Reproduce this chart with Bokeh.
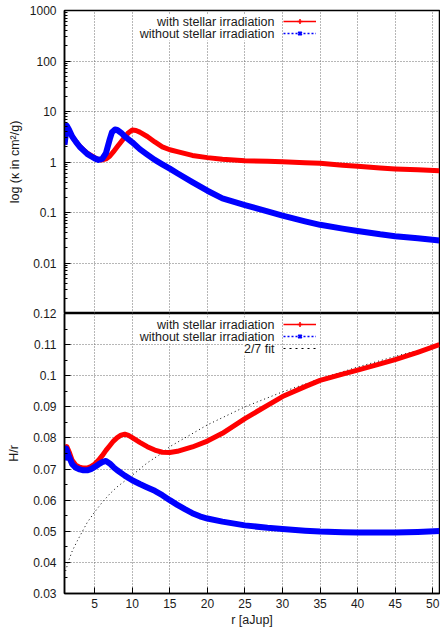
from bokeh.plotting import figure
from bokeh.layouts import column
from bokeh.models import (Range1d, FixedTicker, Label, Legend, LegendItem)
from bokeh.embed import file_html
from bokeh.resources import INLINE

FONT = "Liberation Sans"

# ---------------- data ----------------
r_kappa_irr = [0.98, 1.3, 1.6, 2.0, 2.5, 3.0, 3.5, 4.0, 4.5, 5.0, 5.5, 6.0, 6.5, 7.0,
               7.5, 8.0, 8.5, 9.0, 9.5, 10.0, 10.5, 11.0, 12.0, 13.0, 14.0, 15.0,
               16.0, 18.0, 20.0, 22.0, 25.0, 28.0, 30.0, 33.0, 35.0, 38.0, 40.0,
               43.0, 45.0, 48.0, 50.9]
kappa_irr = [2.2, 5.0, 4.2, 3.2, 2.5, 2.05, 1.75, 1.5, 1.35, 1.22, 1.12, 1.1, 1.15, 1.3,
             1.6, 2.0, 2.5, 3.1, 3.8, 4.3, 4.2, 3.9, 3.2, 2.5, 2.0, 1.75,
             1.6, 1.35, 1.22, 1.13, 1.06, 1.03, 1.01, 0.97, 0.94, 0.86, 0.82,
             0.76, 0.73, 0.70, 0.67]

r_kappa_noirr = [0.98, 1.3, 1.6, 2.0, 2.5, 3.0, 3.5, 4.0, 4.5, 5.0, 5.5, 6.0, 6.5, 7.0,
                 7.3, 7.7, 8.0, 8.5, 9.0, 9.5, 10.0, 11.0, 12.0, 13.0, 14.0, 15.0,
                 16.0, 18.0, 20.0, 22.0, 25.0, 28.0, 30.0, 33.0, 35.0, 38.0, 40.0,
                 43.0, 45.0, 48.0, 50.9]
kappa_noirr = [2.2, 5.2, 4.3, 3.2, 2.5, 2.0, 1.7, 1.45, 1.3, 1.18, 1.1, 1.15, 1.5, 2.8,
               3.9, 4.4, 4.3, 3.8, 3.2, 2.8, 2.45, 1.8, 1.4, 1.1, 0.9, 0.74,
               0.6, 0.4, 0.27, 0.19, 0.14, 0.105, 0.087, 0.067, 0.057, 0.048, 0.043,
               0.037, 0.034, 0.031, 0.028]

r_h_irr = [0.98, 1.3, 1.6, 2.0, 2.5, 3.0, 3.5, 4.0, 4.5, 5.0, 5.5, 6.0, 6.5, 7.0, 7.5,
           8.0, 8.5, 9.0, 9.5, 10.0, 11.0, 12.0, 13.0, 14.0, 15.0, 16.0, 18.0, 20.0,
           22.0, 25.0, 28.0, 30.0, 33.0, 35.0, 38.0, 40.0, 43.0, 45.0, 48.0, 50.9]
h_irr = [0.0735, 0.0772, 0.0755, 0.0728, 0.0712, 0.0706, 0.0703, 0.0703, 0.0708, 0.0716,
         0.0728, 0.0743, 0.0760, 0.0775, 0.0790, 0.0801, 0.0809, 0.0812, 0.0808, 0.0801,
         0.0786, 0.0772, 0.0761, 0.0754, 0.0753, 0.0757, 0.0771, 0.0790, 0.0815, 0.0862,
         0.0905, 0.0933, 0.0965, 0.0985, 0.1005, 0.1018, 0.1038, 0.1052, 0.1075, 0.1100]

r_h_noirr = [0.98, 1.2, 1.5, 2.0, 2.5, 3.0, 3.5, 4.0, 4.5, 5.0, 5.5, 6.0, 6.5, 7.0, 7.5,
             8.0, 9.0, 10.0, 11.0, 12.0, 13.0, 14.0, 15.0, 16.0, 17.0, 18.0, 19.0, 20.0,
             22.0, 25.0, 28.0, 30.0, 33.0, 35.0, 38.0, 40.0, 43.0, 45.0, 48.0, 50.9]
h_noirr = [0.0728, 0.0766, 0.0745, 0.0716, 0.0704, 0.0699, 0.0696, 0.0696, 0.0700, 0.0707,
           0.0715, 0.0722, 0.0726, 0.0718, 0.0706, 0.0696, 0.0679, 0.0664, 0.0652, 0.0641,
           0.0630, 0.0616, 0.0600, 0.0585, 0.0571, 0.0558, 0.0548, 0.0541, 0.0531, 0.0519,
           0.0511, 0.0507, 0.0502, 0.0499, 0.0497, 0.0496, 0.0496, 0.0496, 0.0498, 0.0501]

r_fit = [0.98, 1.5, 2.0, 2.7, 4.0, 5.0, 6.0, 7.0, 8.0, 10.0, 12.0, 14.0, 15.0, 20.0, 25.0,
         30.0, 35.0, 40.0, 45.0, 50.9]
h_fit = [0.0360, 0.0403, 0.0436, 0.0470, 0.0528, 0.0562, 0.0593, 0.0620, 0.0643, 0.0680,
         0.0720, 0.0752, 0.0772, 0.0842, 0.0900, 0.0948, 0.0990, 0.1028, 0.1062, 0.1100]

x_ticks = [5, 10, 15, 20, 25, 30, 35, 40, 45, 50]
kappa_ticks = [0.01, 0.1, 1, 10, 100, 1000]
kappa_tick_labels = ["0.01", "0.1", "1", "10", "100", "1000"]
kappa_minor = [m * d for d in [0.001, 0.01, 0.1, 1, 10, 100] for m in range(2, 10)]
h_ticks = [0.03, 0.04, 0.05, 0.06, 0.07, 0.08, 0.09, 0.1, 0.11, 0.12]
h_tick_labels = ["0.03", "0.04", "0.05", "0.06", "0.07", "0.08", "0.09", "0.1", "0.11", "0.12"]
h_minor = [0.035, 0.045, 0.055, 0.065, 0.075, 0.085, 0.095, 0.105, 0.115]

legend_top = ["with stellar irradiation", "without stellar irradiation"]
legend_bot = ["with stellar irradiation", "without stellar irradiation", "2/7 fit"]

RED = "#ff0000"
BLUE = "#0000ff"
GRID = "#6e6e6e"
TXT = "#1a1a1a"


def style_axis(ax):
    ax.axis_line_color = "black"
    ax.axis_line_width = 1.5
    ax.major_tick_line_color = "black"
    ax.minor_tick_line_color = "black"
    ax.major_tick_in = 6
    ax.major_tick_out = 0
    ax.minor_tick_in = 3
    ax.minor_tick_out = 0
    ax.major_label_text_font = FONT
    ax.major_label_text_color = TXT
    ax.major_label_text_font_size = "12px"
    ax.major_label_standoff = 8
    ax.axis_label_text_font = FONT
    ax.axis_label_text_font_style = "normal"
    ax.axis_label_text_font_size = "12.5px"
    ax.axis_label_text_color = TXT


def style_fig(p):
    p.outline_line_color = "black"
    p.outline_line_width = 1.5
    p.outline_line_alpha = 1
    p.background_fill_color = "white"
    p.border_fill_alpha = 0
    for g in (p.xgrid[0], p.ygrid[0]):
        g.grid_line_color = GRID
        g.grid_line_dash = "1 2"
        g.grid_line_width = 1


def legend_box(items, vy):
    return Legend(items=items, location=(219, vy), glyph_width=33, glyph_height=12,
                  spacing=0, padding=0, margin=0, label_standoff=0, label_width=1,
                  label_height=1, label_text_font_size="6px", border_line_alpha=0,
                  background_fill_alpha=0, inactive_fill_alpha=0)


xtick = FixedTicker(ticks=x_ticks)
ktick = FixedTicker(ticks=kappa_ticks, minor_ticks=kappa_minor)
htick = FixedTicker(ticks=h_ticks, minor_ticks=h_minor)

W = 440

# ---------------- top panel ----------------
top = figure(width=W, height=313, x_range=Range1d(0.98, 50.9),
             y_range=Range1d(0.001, 1000), y_axis_type="log",
             output_backend="svg", toolbar_location=None,
             min_border_left=64, min_border_right=1, min_border_top=10,
             min_border_bottom=0)
style_fig(top)
top.xaxis.visible = False
top.xgrid.ticker = xtick
top.yaxis.ticker = ktick
top.yaxis.major_label_overrides = dict(zip(kappa_ticks, kappa_tick_labels))
style_axis(top.yaxis[0])
top.yaxis.axis_label = "log (κ in cm²/g)"
top.yaxis.axis_label_standoff = 5

top.line(r_kappa_irr, kappa_irr, line_color=RED, line_width=5, line_join="round")
top.line(r_kappa_noirr, kappa_noirr, line_color=BLUE, line_width=6, line_join="round")

# legend-only (hidden) renderers for the thin key samples
tl1 = top.line(r_kappa_irr, kappa_irr, line_color=RED, line_width=1.5, visible=False)
tp1 = top.scatter(r_kappa_irr, kappa_irr, marker="cross", line_color=RED, size=7,
                  line_width=1.5, visible=False)
tl2 = top.line(r_kappa_noirr, kappa_noirr, line_color=BLUE, line_width=1.5,
               line_dash="2 2", visible=False)
tp2 = top.scatter(r_kappa_noirr, kappa_noirr, marker="x", line_color=BLUE, size=6,
                  line_width=2, visible=False)
top.add_layout(legend_box([LegendItem(label=" ", renderers=[tl1, tp1]),
                           LegendItem(label=" ", renderers=[tl2, tp2])], 274))
for i, t in enumerate(legend_top):
    top.add_layout(Label(x=210, y=292 - 12 * i, x_units="screen", y_units="screen",
                         text=t, text_align="right", text_baseline="middle",
                         text_font=FONT, text_font_size="12.5px", text_color=TXT,
                         background_fill_color="white"))

# ---------------- bottom panel ----------------
bot = figure(width=W, height=323, x_range=top.x_range,
             y_range=Range1d(0.03, 0.12),
             output_backend="svg", toolbar_location=None,
             min_border_left=64, min_border_right=1, min_border_top=7,
             min_border_bottom=36)
bot.margin = (-7, 0, 0, 0)
style_fig(bot)
bot.xaxis.ticker = xtick
bot.yaxis.ticker = htick
bot.yaxis.major_label_overrides = dict(zip(h_ticks, h_tick_labels))
style_axis(bot.xaxis[0])
bot.xaxis.major_label_standoff = 5
bot.xaxis.axis_label = "r [aJup]"
bot.xaxis.axis_label_standoff = 2
style_axis(bot.yaxis[0])
bot.yaxis.axis_label = "H/r"
bot.yaxis.axis_label_standoff = 9

bot.line(r_fit, h_fit, line_color="black", line_width=1, line_dash="1 3")
bot.line(r_h_irr, h_irr, line_color=RED, line_width=5, line_join="round")
bot.line(r_h_noirr, h_noirr, line_color=BLUE, line_width=6, line_join="round")

bl1 = bot.line(r_h_irr, h_irr, line_color=RED, line_width=1.5, visible=False)
bp1 = bot.scatter(r_h_irr, h_irr, marker="cross", line_color=RED, size=7,
                  line_width=1.5, visible=False)
bl2 = bot.line(r_h_noirr, h_noirr, line_color=BLUE, line_width=1.5, line_dash="2 2",
               visible=False)
bp2 = bot.scatter(r_h_noirr, h_noirr, marker="x", line_color=BLUE, size=6,
                  line_width=2, visible=False)
bl3 = bot.line(r_fit, h_fit, line_color="black", line_width=1.2, line_dash="2 4",
               visible=False)
bot.add_layout(legend_box([LegendItem(label=" ", renderers=[bl1, bp1]),
                           LegendItem(label=" ", renderers=[bl2, bp2]),
                           LegendItem(label=" ", renderers=[bl3])], 239))
for i, t in enumerate(legend_bot):
    bot.add_layout(Label(x=210, y=269 - 12 * i, x_units="screen", y_units="screen",
                         text=t, text_align="right", text_baseline="middle",
                         text_font=FONT, text_font_size="12.5px", text_color=TXT,
                         background_fill_color="white"))

layout = column(top, bot, spacing=0)
open("out.html", "w").write(file_html(layout, INLINE))
